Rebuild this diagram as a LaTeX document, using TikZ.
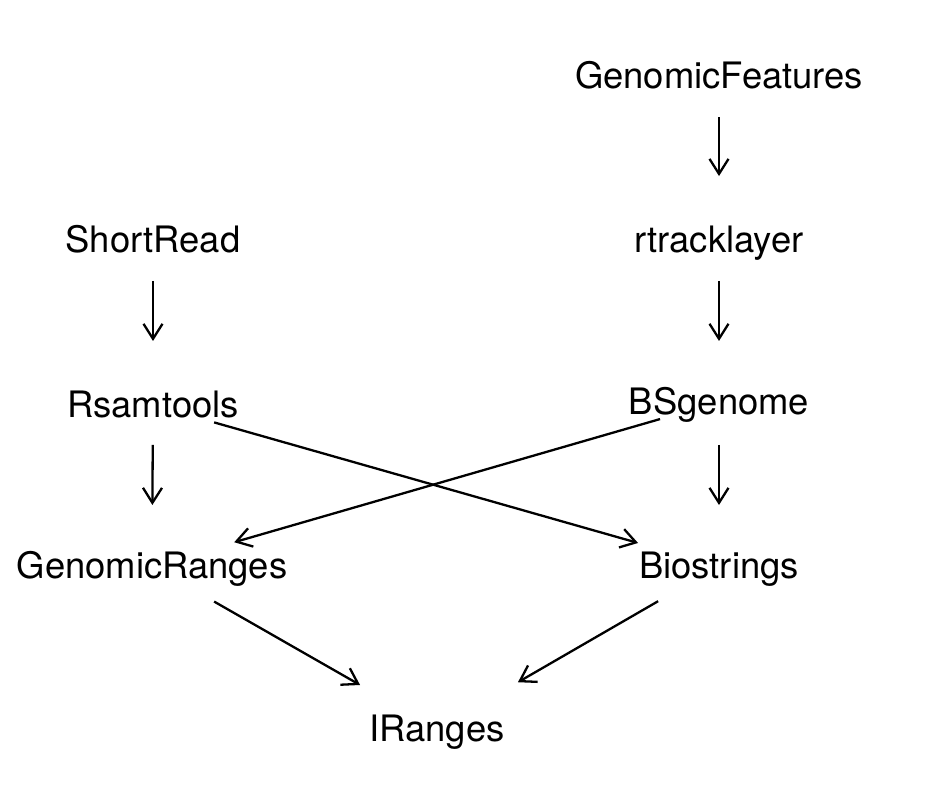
\documentclass[tikz,border=0pt]{standalone}
\usepackage{fontspec}
\setmainfont{TeX Gyre Heros}
\usetikzlibrary{arrows.meta,calc}

\begin{document}
\begin{tikzpicture}[x=1pt,y=-1pt,
		pkg/.style={inner sep=0pt,text height=25pt,text depth=0pt,font=\fontsize{36.4}{40}\selectfont},
		dep/.style={-{Straight Barb[length=15pt,width=19pt]},line width=2.3pt}]
		\useasboundingbox (0,0) rectangle (928,790);
		
		\node[pkg] (GF) at (719,76) {GenomicFeatures};
		\node[pkg] (rt) at (719,240) {rtracklayer};
		\node[pkg] (SR) at (153,240) {ShortRead};
		\node[pkg] (Rs) at (153,405) {Rsamtools};
		\node[pkg] (BS) at (719,402) {BSgenome};
		\node[pkg] (GR) at (152,566) {GenomicRanges};
		\node[pkg] (Bi) at (719,566) {Biostrings};
		\node[pkg] (IR) at (437,729) {IRanges};
		
		\foreach \a/\b/\s/\e in {GF/rt/.25/.61, rt/BS/.253/.623, SR/Rs/.248/.612, Rs/GR/.248/.621, BS/Bi/.262/.628,
				Rs/Bi/.108/.857, BS/GR/.104/.855, GR/IR/.218/.73, Bi/IR/.216/.713}
			\draw[dep] ($(\a)!\s!(\b)$) -- ($(\a)!\e!(\b)$);
	\end{tikzpicture}
\end{document}
